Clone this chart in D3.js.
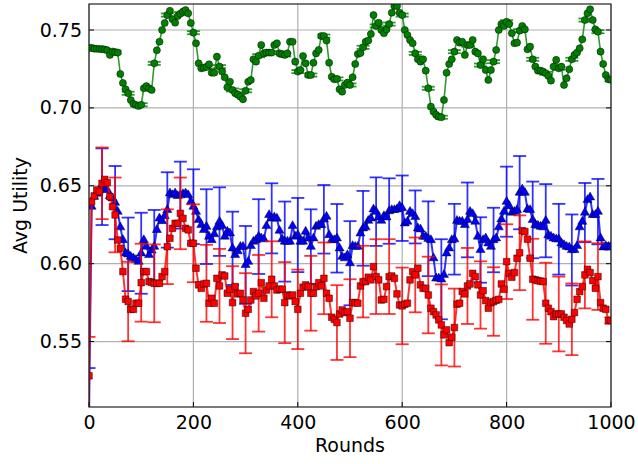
<!DOCTYPE html>
<html>
<head>
<meta charset="utf-8">
<script src="https://cdn.jsdelivr.net/npm/d3@7/dist/d3.min.js"></script>
<style>
  body { margin: 0; background: #fff; }
  svg text { font-family: "DejaVu Sans", sans-serif; fill: #000; }
</style>
</head>
<body>
<svg id="chart"></svg>
<script>
var screen = {width: 638, height: 464}
var margins = {top: 4, right: 27, bottom: 57, left: 89}

// sampling grid (every 5 rounds) and error-bar grid (every 25 rounds)
var rounds = d3.range(0, 1001, 5)
var errRounds = d3.range(0, 1001, 25)

var xTicks = [0, 200, 400, 600, 800, 1000]
var yTicks = [0.55, 0.60, 0.65, 0.70, 0.75]

var greenVals = [
  0.7385, 0.7385, 0.738, 0.738, 0.7378, 0.7377, 0.7375, 0.737, 0.734, 0.7362,
  0.7358, 0.7355, 0.7218, 0.716, 0.712, 0.7094, 0.705, 0.7025, 0.7019, 0.7012,
  0.702, 0.7126, 0.714, 0.7125, 0.7115, 0.7286, 0.737, 0.7425, 0.75, 0.7545,
  0.7596, 0.7624, 0.7569, 0.7547, 0.759, 0.7605, 0.7618, 0.7628, 0.7607, 0.7545,
  0.7483, 0.7415, 0.7286, 0.7254, 0.7258, 0.7263, 0.728, 0.7226, 0.7226, 0.7329,
  0.7265, 0.7233, 0.7197, 0.7132, 0.7168, 0.7115, 0.7094, 0.7085, 0.7072, 0.7055,
  0.711, 0.7168, 0.7179, 0.7312, 0.7297, 0.7335, 0.7404, 0.735, 0.7355, 0.7355,
  0.7355, 0.7404, 0.7415, 0.735, 0.7345, 0.734, 0.735, 0.7425, 0.7425, 0.7297,
  0.7233, 0.7243, 0.7333, 0.7286, 0.7211, 0.7211, 0.729, 0.735, 0.7372, 0.7461,
  0.7461, 0.7432, 0.729, 0.72, 0.7184, 0.7186, 0.7119, 0.7104, 0.7147, 0.7162,
  0.7147, 0.7197, 0.7282, 0.7346, 0.7352, 0.7389, 0.7425, 0.7432, 0.7474, 0.7596,
  0.7526, 0.7547, 0.75, 0.7479, 0.7504, 0.7538, 0.7611, 0.7654, 0.7654, 0.7611,
  0.7596, 0.75, 0.7468, 0.7436, 0.7415, 0.735, 0.7312, 0.7297, 0.7312, 0.7239,
  0.7126, 0.7008, 0.6976, 0.6955, 0.6944, 0.694, 0.7051, 0.7226, 0.7282, 0.7312,
  0.7361, 0.7436, 0.7419, 0.7425, 0.734, 0.7404, 0.7404, 0.7436, 0.7361, 0.735,
  0.7275, 0.7312, 0.7243, 0.7179, 0.7243, 0.7297, 0.7372, 0.75, 0.7538, 0.7526,
  0.7553, 0.7538, 0.7479, 0.7415, 0.7419, 0.7496, 0.7526, 0.7504, 0.7376, 0.7393,
  0.7312, 0.7265, 0.7239, 0.7239, 0.7233, 0.7222, 0.7205, 0.7175, 0.7265, 0.7308,
  0.7254, 0.7265, 0.7147, 0.719, 0.7248, 0.7312, 0.734, 0.7355, 0.7383, 0.744,
  0.7564, 0.7607, 0.7633, 0.7564, 0.7504, 0.7489, 0.7361, 0.7282, 0.7211, 0.7184,
  0.718
]

var blueVals = [
  0.50, 0.6366, 0.643, 0.645, 0.6477, 0.6494, 0.6485, 0.6473, 0.6435, 0.642,
  0.6392, 0.6334, 0.6234, 0.6152, 0.6067, 0.606, 0.6045, 0.6035, 0.6025, 0.6013,
  0.6067, 0.6152, 0.6109, 0.6056, 0.6085, 0.6109, 0.6217, 0.6291, 0.6274, 0.6306,
  0.6345, 0.6452, 0.6441, 0.6452, 0.6435, 0.644, 0.6447, 0.6452, 0.6441, 0.6398,
  0.6366, 0.6334, 0.6281, 0.6249, 0.6217, 0.6238, 0.6174, 0.6152, 0.619, 0.6234,
  0.627, 0.6242, 0.6174, 0.6206, 0.6195, 0.6099, 0.6056, 0.608, 0.6109, 0.6109,
  0.5992, 0.6013, 0.6114, 0.6142, 0.6152, 0.6174, 0.6163, 0.6157, 0.6242, 0.6313,
  0.6291, 0.6298, 0.629, 0.6212, 0.6157, 0.6142, 0.6142, 0.6142, 0.6242, 0.6174,
  0.6184, 0.6142, 0.6142, 0.6206, 0.6163, 0.6109, 0.6163, 0.6238, 0.6249, 0.6249,
  0.6285, 0.6302, 0.6184, 0.6152, 0.6152, 0.6163, 0.6099, 0.6045, 0.6035, 0.6056,
  0.6003, 0.6114, 0.6109, 0.6109, 0.6195, 0.6227, 0.6234, 0.6276, 0.6291, 0.6349,
  0.6334, 0.6298, 0.6276, 0.6306, 0.6298, 0.6338, 0.6345, 0.6345, 0.6349, 0.637,
  0.6356, 0.6259, 0.627, 0.6334, 0.6319, 0.63, 0.6227, 0.6221, 0.6174, 0.6174,
  0.616, 0.6152, 0.6035, 0.5906, 0.5906, 0.59, 0.5928, 0.6067, 0.6099, 0.6152,
  0.6157, 0.6276, 0.627, 0.627, 0.6249, 0.6281, 0.6334, 0.6319, 0.627, 0.6174,
  0.6088, 0.6152, 0.6163, 0.6131, 0.6109, 0.6152, 0.6163, 0.6234, 0.6285, 0.6334,
  0.6398, 0.637, 0.6328, 0.6334, 0.6345, 0.6456, 0.6477, 0.6456, 0.6349, 0.6345,
  0.6281, 0.6249, 0.6245, 0.6238, 0.6234, 0.6276, 0.6184, 0.6174, 0.6163, 0.6157,
  0.6157, 0.6131, 0.612, 0.6109, 0.6105, 0.6088, 0.6088, 0.6114, 0.6234, 0.627,
  0.6328, 0.6409, 0.6426, 0.6313, 0.6313, 0.6334, 0.6163, 0.6105, 0.6114, 0.6109,
  0.611
]

var redVals = [
  0.528, 0.6398, 0.6435, 0.6473, 0.6462, 0.6516, 0.6541, 0.652, 0.643, 0.6366,
  0.6313, 0.6152, 0.6099, 0.5949, 0.5772, 0.5757, 0.5707, 0.5707, 0.5746, 0.5746,
  0.5878, 0.5949, 0.5949, 0.5885, 0.588, 0.5874, 0.5874, 0.5874, 0.5917, 0.5949,
  0.6109, 0.6163, 0.6227, 0.6259, 0.6259, 0.6323, 0.6291, 0.6227, 0.6217, 0.6131,
  0.6131, 0.5971, 0.5864, 0.5842, 0.587, 0.5874, 0.5746, 0.5778, 0.5746, 0.5906,
  0.5857, 0.5928, 0.5921, 0.581, 0.5836, 0.575, 0.5853, 0.5806, 0.581, 0.5767,
  0.5682, 0.5707, 0.5767, 0.5821, 0.5793, 0.581, 0.5878, 0.5778, 0.5831, 0.5857,
  0.59, 0.5857, 0.5831, 0.5836, 0.5836, 0.575, 0.5799, 0.5793, 0.5799, 0.5757,
  0.5707, 0.581, 0.5849, 0.5864, 0.5853, 0.581, 0.581, 0.5853, 0.5878, 0.5857,
  0.5906, 0.581, 0.5778, 0.5656, 0.5643, 0.5622, 0.5677, 0.5703, 0.5686, 0.5692,
  0.565, 0.575, 0.575, 0.5746, 0.5857, 0.5885, 0.5885, 0.5913, 0.5896, 0.5981,
  0.5917, 0.5896, 0.5767, 0.5771, 0.5853, 0.5917, 0.5921, 0.5906, 0.5806, 0.5735,
  0.5729, 0.574, 0.5746, 0.5896, 0.5949, 0.5928, 0.5971, 0.5864, 0.5842, 0.5842,
  0.5799, 0.5714, 0.5692, 0.5671, 0.5639, 0.5607, 0.5543, 0.5575, 0.5493, 0.5528,
  0.559, 0.574, 0.5746, 0.5821, 0.5806, 0.5857, 0.587, 0.5938, 0.5917, 0.5864,
  0.5799, 0.5827, 0.5763, 0.5714, 0.575, 0.5757, 0.5765, 0.5771, 0.587, 0.5836,
  0.6013, 0.5938, 0.5913, 0.5943, 0.6035, 0.607, 0.6212, 0.6206, 0.6157, 0.6035,
  0.59, 0.5896, 0.5891, 0.5888, 0.5885, 0.5746, 0.5714, 0.5692, 0.566, 0.5677,
  0.5677, 0.5677, 0.5656, 0.5635, 0.5613, 0.5643, 0.5686, 0.5771, 0.5821, 0.5853,
  0.5928, 0.5964, 0.5943, 0.5891, 0.5842, 0.5917, 0.575, 0.5714, 0.5707, 0.5635,
  0.5635
]

// error bar half-lengths at rounds 0, 25, 50 ... 1000
var greenErr = [
  0.001, 0.001, 0.001, 0.001, 0.001, 0.001, 0.001, 0.001, 0.001, 0.001,
  0.001, 0.001, 0.001, 0.001, 0.001, 0.001, 0.001, 0.001, 0.001, 0.001,
  0.001, 0.001, 0.001, 0.001, 0.001, 0.001, 0.001, 0.001, 0.001, 0.001,
  0.001, 0.001, 0.001, 0.001, 0.001, 0.001, 0.001, 0.001, 0.001, 0.001,
  0.001
]
var blueErr = [
  0.033, 0.0246, 0.0235, 0.0236, 0.026, 0.0236, 0.0242, 0.0215, 0.024, 0.024,
  0.022, 0.0235, 0.025, 0.024, 0.0225, 0.0257, 0.0238, 0.024, 0.022, 0.022,
  0.027, 0.024, 0.022, 0.021, 0.021, 0.017, 0.024, 0.0257, 0.0227, 0.024,
  0.021, 0.0207, 0.0225, 0.0235, 0.0246, 0.0235, 0.0227, 0.0228, 0.019, 0.021,
  0.002
]
var redErr = [
  0.025, 0.023, 0.024, 0.0255, 0.025, 0.025, 0.024, 0.023, 0.025, 0.0247,
  0.0238, 0.0234, 0.0257, 0.0246, 0.0244, 0.026, 0.0255, 0.024, 0.023, 0.024,
  0.025, 0.023, 0.024, 0.024, 0.0246, 0.024, 0.0246, 0.026, 0.025, 0.0244,
  0.0216, 0.022, 0.024, 0.024, 0.026, 0.026, 0.024, 0.023, 0.0215, 0.0214,
  0.002
]

var series = [
  {name: "green", vals: greenVals, err: greenErr, color: "#008000", marker: "circle"},
  {name: "blue", vals: blueVals, err: blueErr, color: "#0000ff", marker: "triangle"},
  {name: "red", vals: redVals, err: redErr, color: "#ff0000", marker: "square"}
]

var svg = d3.select("#chart")
    .attr("width", screen.width)
    .attr("height", screen.height)

svg.append("rect")
    .attr("width", screen.width)
    .attr("height", screen.height)
    .attr("fill", "#fff")

var width = screen.width - margins.left - margins.right
var height = screen.height - margins.top - margins.bottom

var xScale = d3.scaleLinear()
                .domain([0, 1000])
                .range([0, width])

var yScale = d3.scaleLinear()
                .domain([0.508, 0.7667])
                .range([height, 0])

var plot = svg.append("g")
    .attr("transform", "translate(" + margins.left + "," + margins.top + ")")

svg.append("defs").append("clipPath")
    .attr("id", "clip")
    .append("rect")
    .attr("width", width)
    .attr("height", height)

//
//GRID
//
plot.append("g")
    .selectAll("line")
    .data(xTicks)
    .enter()
    .append("line")
    .attr("x1", function(d){ return xScale(d) })
    .attr("x2", function(d){ return xScale(d) })
    .attr("y1", 0)
    .attr("y2", height)
    .attr("stroke", "#b0b0b0")
    .attr("stroke-width", 1.2)

plot.append("g")
    .selectAll("line")
    .data(yTicks)
    .enter()
    .append("line")
    .attr("x1", 0)
    .attr("x2", width)
    .attr("y1", function(d){ return yScale(d) })
    .attr("y2", function(d){ return yScale(d) })
    .attr("stroke", "#b0b0b0")
    .attr("stroke-width", 1.2)

//
//SERIES
//
var marks = plot.append("g").attr("clip-path", "url(#clip)")

var line = d3.line()
    .x(function(d){ return xScale(d.r) })
    .y(function(d){ return yScale(d.v) })

series.forEach(function(s)
{
    var pts = rounds.map(function(r, i){ return {r: r, v: s.vals[i]} })
    var bars = errRounds.map(function(r, i)
    {
        return {r: r, v: s.vals[rounds.indexOf(r)], e: s.err[i]}
    })

    var g = marks.append("g").attr("class", s.name)

    // error bars
    var eb = g.selectAll(".eb")
        .data(bars)
        .enter()
        .append("g")
        .attr("stroke", s.color)
        .attr("stroke-width", 1.8)
        .attr("stroke-opacity", 0.8)

    eb.append("line")
        .attr("x1", function(d){ return xScale(d.r) })
        .attr("x2", function(d){ return xScale(d.r) })
        .attr("y1", function(d){ return yScale(d.v - d.e) })
        .attr("y2", function(d){ return yScale(d.v + d.e) })

    eb.append("line")
        .attr("x1", function(d){ return xScale(d.r) - 6.5 })
        .attr("x2", function(d){ return xScale(d.r) + 6.5 })
        .attr("y1", function(d){ return yScale(d.v - d.e) })
        .attr("y2", function(d){ return yScale(d.v - d.e) })

    eb.append("line")
        .attr("x1", function(d){ return xScale(d.r) - 6.5 })
        .attr("x2", function(d){ return xScale(d.r) + 6.5 })
        .attr("y1", function(d){ return yScale(d.v + d.e) })
        .attr("y2", function(d){ return yScale(d.v + d.e) })

    // line
    g.append("path")
        .datum(pts)
        .attr("d", line)
        .attr("fill", "none")
        .attr("stroke", s.color)
        .attr("stroke-width", s.name == "green" ? 1.6 : 2)
        .attr("stroke-opacity", 0.8)

    // markers
    var sym = s.marker == "circle" ? d3.symbolCircle
            : s.marker == "triangle" ? d3.symbolTriangle
            : d3.symbolSquare
    var size = s.marker == "circle" ? 40 : s.marker == "triangle" ? 36 : 44

    g.selectAll(".pt")
        .data(pts)
        .enter()
        .append("path")
        .attr("d", d3.symbol().type(sym).size(size))
        .attr("transform", function(d)
        {
            return "translate(" + xScale(d.r) + "," + yScale(d.v) + ")"
        })
        .attr("fill", s.color)
        .attr("stroke", "#000")
        .attr("stroke-opacity", 0.5)
        .attr("stroke-width", 0.9)
})

//
//AXES
//
var xAxis = d3.axisBottom(xScale).tickValues(xTicks).tickSize(0).tickPadding(9)
    .tickFormat(d3.format("d"))
var yAxis = d3.axisLeft(yScale).tickValues(yTicks).tickSize(0).tickPadding(7)
    .tickFormat(d3.format(".2f"))

var gx = plot.append("g")
    .attr("transform", "translate(0," + height + ")")
    .call(xAxis)
gx.select(".domain").remove()
gx.selectAll("text").style("font-size", "19px").attr("fill", "#000")

var gy = plot.append("g")
    .call(yAxis)
gy.select(".domain").remove()
gy.selectAll("text").style("font-size", "19px").attr("fill", "#000")

// inward tick marks on all four sides
plot.append("g")
    .selectAll("line")
    .data(yTicks)
    .enter()
    .append("line")
    .attr("x1", 0).attr("x2", 5)
    .attr("y1", function(d){ return yScale(d) })
    .attr("y2", function(d){ return yScale(d) })
    .attr("stroke", "#000")
plot.append("g")
    .selectAll("line")
    .data(yTicks)
    .enter()
    .append("line")
    .attr("x1", width - 5).attr("x2", width)
    .attr("y1", function(d){ return yScale(d) })
    .attr("y2", function(d){ return yScale(d) })
    .attr("stroke", "#000")
plot.append("g")
    .selectAll("line")
    .data(xTicks)
    .enter()
    .append("line")
    .attr("x1", function(d){ return xScale(d) })
    .attr("x2", function(d){ return xScale(d) })
    .attr("y1", height - 5).attr("y2", height)
    .attr("stroke", "#000")

// frame
plot.append("rect")
    .attr("width", width)
    .attr("height", height)
    .attr("fill", "none")
    .attr("stroke", "#222")
    .attr("stroke-width", 1.2)

svg.append("text")
    .attr("x", margins.left + width / 2)
    .attr("y", 452)
    .attr("text-anchor", "middle")
    .style("font-size", "19px")
    .text("Rounds")

svg.append("text")
    .attr("transform", "translate(27," + (margins.top + height / 2) + ") rotate(-90)")
    .attr("text-anchor", "middle")
    .style("font-size", "19px")
    .text("Avg Utility")
</script>
</body>
</html>
